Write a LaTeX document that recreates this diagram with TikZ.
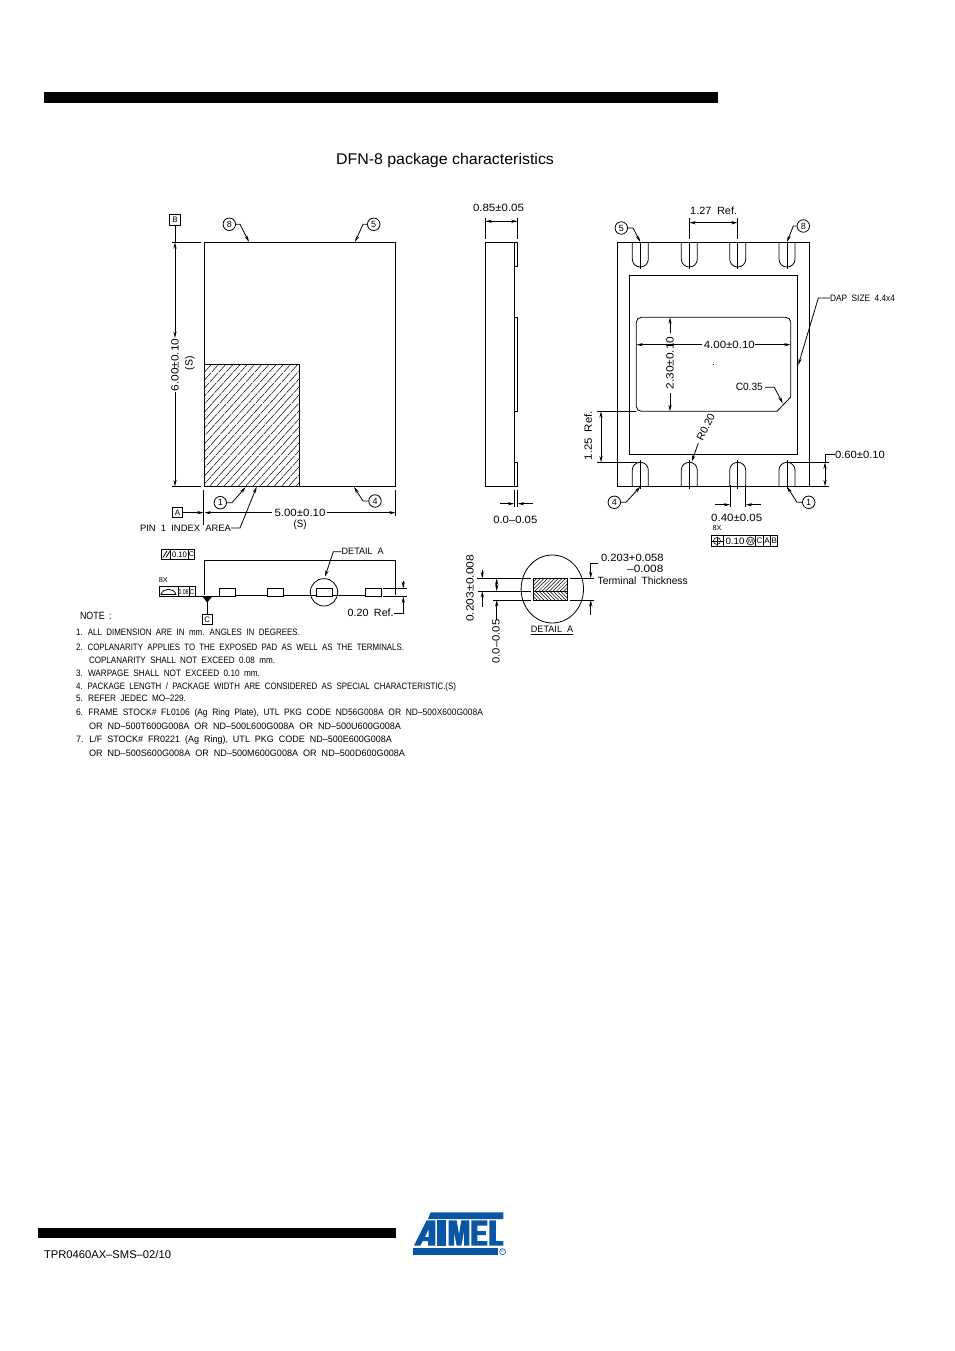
\documentclass[tikz,border=0pt]{standalone}
\usepackage{fontspec}
\usepackage{graphicx}
\setmainfont{Liberation Sans}
\usetikzlibrary{arrows.meta}
\newcommand{\cad}[2]{\resizebox{#1pt}{\height}{\fontsize{10.5}{12}\selectfont\spaceskip=.5em #2}}
\newcommand{\cadn}[2]{\resizebox{#1pt}{\height}{\fontsize{9.3}{11}\selectfont\spaceskip=.55em #2}}
\definecolor{atmel}{HTML}{0A56A6}
\tikzset{
  ln/.style={line width=0.8pt,black},
  tip/.style={-{Stealth[length=6.5pt,width=3.2pt]},line width=0.8pt},
  dbl/.style={{Stealth[length=6.5pt,width=3.2pt]}-{Stealth[length=6.5pt,width=3.2pt]},line width=0.8pt},
  lab/.style={inner sep=0pt,outer sep=0pt,anchor=center},
  noteline/.style={inner sep=0pt,outer sep=0pt,anchor=west},
  balloon/.style={draw,circle,line width=0.8pt,minimum size=12.5pt,inner sep=0pt},
  datum/.style={draw,line width=0.8pt,minimum width=10.5pt,minimum height=10.5pt,inner sep=0pt},
  hatchln/.style={line width=0.5pt,black}
}
\newcommand{\bal}[4]{\node[balloon] (#1) at (#2,#3) {\fontsize{9}{10}\selectfont #4};}
\begin{document}
\begin{tikzpicture}[x=1pt,y=-1pt]
\useasboundingbox (0,0) rectangle (954,1351);
\fill[white] (0,0) rectangle (954,1351);
% page furniture
\fill[black] (44,92) rectangle (718,103);
\fill[black] (38,1228) rectangle (396,1238);
\node[lab] (title) at (445,160.5) {\resizebox{218pt}{\height}{\fontsize{15.5}{18}\selectfont DFN-8 package characteristics}};
\node[noteline] (code) at (44,1254) {\resizebox{127pt}{\height}{\fontsize{11.2}{13}\selectfont TPR0460AX–SMS–02/10}};

% ---------- top view
\draw[ln] (204.3,242.3) rectangle (395.7,486.3);
\begin{scope}
\clip (204.3,364.3) rectangle (299.7,486.3);
\foreach \k in {0,...,30} {\draw[hatchln,dash pattern=on 13pt off 1pt] ({204.3-110+\k*7.2},486.3) -- ++(110,-122);}
\end{scope}
\draw[ln] (204.3,364.3) rectangle (299.7,486.3);
\node[datum] (B) at (175,220) {\fontsize{8}{9}\selectfont B};
\node[datum] (A) at (177.5,512.5) {\fontsize{8}{9}\selectfont A};
\draw[ln] (171.5,242.3) -- (201,242.3);
\draw[ln] (171.5,486.3) -- (201,486.3);
\draw[ln] (B.south) -- (175,242.3);
\draw[dbl] (175,338) -- (175,242.3);
\draw[tip] (175,392) -- (175,486.3);
\node[lab,rotate=90] (d600) at (175,365) {\cad{53}{6.00±0.10}};
\node[lab,rotate=90] (s1) at (190,363) {\cad{14}{(S)}};
\draw[tip] (A.east) -- (203.7,512.7);
\draw[ln] (203.7,490) -- (203.7,525);
\draw[ln] (395.7,490) -- (395.7,516);
\draw[tip] (271.7,512.7) -- (204.3,512.7);
\draw[tip] (326.7,512.7) -- (395.7,512.7);
\node[lab] (d500) at (300,512.7) {\cad{51}{5.00±0.10}};
\node[lab] (s2) at (300,525) {\cad{13}{(S)}};
\node[noteline] (pin) at (140,528) {\cadn{91}{PIN 1 INDEX AREA}};
\coordinate (pinend) at (256.7,486.7);
\draw[tip] (pin.east) -- (240,528) -- (pinend);
\bal{a1}{220.3}{502.7}{1}
\bal{a4}{375}{501}{4}
\bal{a8}{229.3}{224.3}{8}
\bal{a5}{373.7}{224.3}{5}
\draw[tip] (a1.east) -- (232,502.7) -- (245.7,487);
\draw[tip] (a4.west) -- (363,501) -- (354,487);
\draw[tip] (a8.east) -- (240,224.3) -- (249,242);
\draw[tip] (a5.west) -- (363,224.3) -- (355,242);

% ---------- side view
\draw[ln] (485.3,242.3) rectangle (514.3,486.3);
\draw[ln] (514.3,242.3) rectangle (517.7,266.3);
\draw[ln] (514.3,317.3) rectangle (517.7,411.3);
\draw[ln] (514.3,462.3) rectangle (517.7,486.3);
\draw[ln] (485.3,218) -- (485.3,239);
\draw[ln] (517.7,218) -- (517.7,239);
\draw[dbl] (485.3,221.3) -- (517.7,221.3);
\node[lab] (d085) at (498.5,208.3) {\cad{51}{0.85±0.05}};
\draw[ln] (514.3,489.7) -- (514.3,506.7);
\draw[ln] (517.7,489.7) -- (517.7,506.7);
\draw[tip] (500,503.7) -- (514.3,503.7);
\draw[tip] (532.7,503.7) -- (517.7,503.7);
\node[lab] (d00) at (515.3,520) {\cad{44}{0.0–0.05}};

% ---------- bottom view
\draw[ln] (617.3,242.3) rectangle (809.7,486.3);
\draw[ln] (629.3,275.3) rectangle (797.7,454.3);
\foreach \x in {640.3,689.3,737.7,787} {
  \draw[ln,rounded corners=7.8pt] (\x-8,242.3) -- (\x-8,267) -- (\x+8,267) -- (\x+8,242.3);
  \draw[ln,rounded corners=7.8pt] (\x-8,486.3) -- (\x-8,462.3) -- (\x+8,462.3) -- (\x+8,486.3);
}
\draw[ln] (640.3,242.3) -- (640.3,269);
\draw[ln] (787,242.3) -- (787,269);
\draw[ln] (689.3,218) -- (689.3,239);
\draw[ln] (689.3,242.3) -- (689.3,269);
\draw[ln] (737.7,218) -- (737.7,239);
\draw[ln] (737.7,242.3) -- (737.7,269);
\foreach \x in {640.3,689.3,737.7,787} {\draw[ln] (\x,460) -- (\x,489);}
\draw[dbl] (689.3,222.7) -- (737.7,222.7);
\node[lab] (d127) at (713.7,210.7) {\cad{47}{1.27 Ref.}};
\draw[ln,rounded corners=5pt] (777,411.3) -- (636.3,411.3) -- (636.3,317.3) -- (790.7,317.3) -- (790.7,397);
\draw[ln] (790.7,397) -- (777,411.3);
\bal{b5}{621.3}{228}{5}
\bal{b8}{803.3}{226}{8}
\bal{b4}{614.3}{502.3}{4}
\bal{b1}{808.7}{502.3}{1}
\draw[tip] (b5.east) -- (633,228) -- (640.3,242);
\draw[tip] (b8.west) -- (793.3,226) -- (787,242);
\draw[tip] (b4.east) -- (626,502.3) -- (640.3,486.7);
\draw[tip] (b1.west) -- (797,502.3) -- (787,486.7);
\node[noteline] (dap) at (830,298) {\cadn{65}{DAP SIZE 4.4x4}};
\draw[tip] (dap.west) -- (818.3,298) -- (798.3,365);
\draw[tip] (701.7,344.7) -- (636.3,344.7);
\draw[tip] (755,344.7) -- (790.7,344.7);
\node[lab] (d400) at (729.3,344.7) {\cad{51}{4.00±0.10}};
\draw[tip] (670,333) -- (670,317.3);
\draw[tip] (670,393) -- (670,411.3);
\node[lab,rotate=90] (d230) at (670,363) {\cad{53}{2.30±0.10}};
\fill[black] (713.3,363.6) rectangle (714.3,364.6);
\node[lab] (c035) at (749.3,387.3) {\cad{27}{C0.35}};
\draw[tip] (c035.east) ++(2,0) -- (774.3,387.3) -- (782.7,403.3);
\draw[ln] (597.3,411.3) -- (636.3,411.3);
\draw[ln] (597.3,462.3) -- (636.7,462.3);
\draw[dbl] (601,411.3) -- (601,462.3);
\node[lab,rotate=90] (d125) at (588,435.7) {\cad{49}{1.25 Ref.}};
\node[lab,rotate=64] (r020) at (705.7,427.3) {\cad{29}{R0.20}};
\draw[tip] (698.3,443) -- (691.7,461.7);
\node[noteline] (d060) at (835,454.7) {\cad{50}{0.60±0.10}};
\draw[ln] (789,462.3) -- (829,462.3);
\draw[ln] (809.7,486.3) -- (829,486.3);
\draw[ln] (d060.west) -- (825,454.7) -- (825,462.3);
\draw[dbl] (825,462.3) -- (825,486.3);
\draw[ln] (730.3,485) -- (730.3,506.7);
\draw[ln] (745.7,485) -- (745.7,506.7);
\draw[tip] (715,504.7) -- (730.3,504.7);
\draw[tip] (760.7,504.7) -- (745.7,504.7);
\node[lab] (d040) at (736.7,517.7) {\cad{51}{0.40±0.05}};
\node[lab] (x8c) at (717,528.3) {\resizebox{9pt}{\height}{\fontsize{7}{8}\selectfont 8X}};
% position frame
\draw[ln] (711,535.7) rectangle (777.7,546.3);
\foreach \x in {723.3,755.7,763.3,770.7} {\draw[ln] (\x,535.7) -- (\x,546.3);}
\node[draw,circle,line width=0.6pt,minimum size=7pt,inner sep=0pt] (pos) at (717,541) {};
\draw[ln] (711.5,541) -- (722.5,541) (717,536.5) -- (717,545.5);
\node[lab] (t010) at (735,541) {\cadn{19}{0.10}};
\node[draw,circle,line width=0.6pt,minimum size=8pt,inner sep=0pt] (mm) at (750.5,541) {\fontsize{6}{7}\selectfont M};
\node[lab] (fc) at (759.5,541) {\fontsize{8}{9}\selectfont C};
\node[lab] (fa) at (767,541) {\fontsize{8}{9}\selectfont A};
\node[lab] (fb) at (774.2,541) {\fontsize{8}{9}\selectfont B};

% ---------- edge view
\draw[ln] (204,595) -- (204,560) -- (395.7,560) -- (395.7,595);
\draw[ln] (161,549.3) rectangle (194.3,559.3);
\foreach \x in {170.7,188.3} {\draw[ln] (\x,549.3) -- (\x,559.3);}
\draw[ln] (163,557.5) -- (167,551) (166,557.5) -- (170,551);
\node[lab] (t1) at (179.5,554.3) {\resizebox{15pt}{\height}{\fontsize{8}{9}\selectfont 0.10}};
\node[lab] (t1c) at (191.3,554.3) {\fontsize{7}{8}\selectfont C};
\node[lab] (x8a) at (163.3,580) {\resizebox{9pt}{\height}{\fontsize{7}{8}\selectfont 8X}};
\draw[ln] (159.3,586.7) rectangle (195,596.7);
\foreach \x in {178,189} {\draw[ln] (\x,586.7) -- (\x,596.7);}
\draw[ln] (161,594.5) .. controls (163,587.5) and (174,587.5) .. (176,594.5) -- cycle;
\node[lab] (t2) at (183.5,591.7) {\resizebox{10pt}{\height}{\fontsize{7}{8}\selectfont 0.08}};
\node[lab] (t2c) at (192,591.7) {\fontsize{7}{8}\selectfont C};
\draw[ln] (195,596) -- (219.3,596);
\draw[ln] (235,595) -- (267.7,595) (283.7,595) -- (316,595) (332,595) -- (365.3,595);
\draw[ln] (219.3,588.3) rectangle (235,596.7);
\draw[ln] (267.7,588.3) rectangle (283.7,596.7);
\draw[ln] (316,588.3) rectangle (332,596.7);
\draw[ln] (365.3,588.3) rectangle (381,596.7);
\draw[ln] (383.3,588.3) -- (407.3,588.3) (383.3,596.3) -- (407.3,596.3);
\draw[ln] (324,592.3) circle[radius=13.7];
\node[noteline] (det) at (341.7,551.7) {\cadn{42}{DETAIL A}};
\draw[tip] (det.west) -- (333.3,551.7) -- (325,576.7);
\node[datum] (C) at (207.3,619.5) {\fontsize{8}{9}\selectfont C};
\fill[black] (202.5,596.7) -- (212,596.7) -- (207.3,602.5) -- cycle;
\draw[ln] (207.3,601) -- (C.north);
\draw[tip] (403.3,581) -- (403.3,588.3);
\node[lab] (d020) at (370.7,613) {\cad{46}{0.20 Ref.}};
\draw[tip] (d020.east) -- (403.3,613) -- (403.3,596.5);

% ---------- detail A
\draw[ln] (552.3,589) ellipse[x radius=31.2,y radius=34];
\begin{scope}
\clip (533.3,578.3) rectangle (567.7,591);
\foreach \k in {0,...,14} {\draw[hatchln] ({533.3-12.7+\k*3.6},591) -- ++(12.7,-12.7);}
\end{scope}
\begin{scope}
\clip (533.3,591) rectangle (567.7,600);
\foreach \k in {0,...,13} {\draw[hatchln] ({533.3-9+\k*3.6},591) -- ++(9,9);}
\end{scope}
\draw[ln] (533.3,578.3) rectangle (567.7,600);
\draw[ln] (533.3,591) -- (567.7,591);
\draw[ln] (476.7,578.3) -- (531,578.3) (570,578.3) -- (594.3,578.3);
\draw[ln] (478.3,591) -- (531,591);
\draw[ln] (493.3,600) -- (531,600) (570,600) -- (594.3,600);
\draw[tip] (482.3,570) -- (482.3,578.3);
\draw[tip] (482.3,606.7) -- (482.3,591);
\node[lab,rotate=90] (d203) at (470,588.3) {\cad{67}{0.203±0.008}};
\draw[dbl] (496.7,578.3) -- (496.7,591);
\draw[tip] (496.7,620) -- (496.7,600);
\node[lab,rotate=90] (d005) at (496,641.7) {\cad{44}{0.0–0.05}};
\draw[tip] (598.3,563.3) -- (590.7,563.3) -- (590.7,578.3);
\draw[tip] (590.7,615) -- (590.7,600);
\node[lab,anchor=west] (t1a) at (601,558.3) {\cad{62.5}{0.203+0.058}};
\node[lab,anchor=east] (t1b) at (663.3,569) {\cad{36}{–0.008}};
\node[lab,anchor=west] (t1d) at (597.7,580.7) {\cad{90}{Terminal Thickness}};
\node[lab] (deta) at (552,629) {\cadn{42.3}{DETAIL A}};
\draw[ln] (531,634.3) -- (573.3,634.3);

% ---------- notes
\node[noteline] (n0) at (80,616) {\cad{31.7}{NOTE :}};
\node[noteline] (n1) at (76,632) {\cadn{224}{1. ALL DIMENSION ARE IN mm. ANGLES IN DEGREES.}};
\node[noteline] (n2) at (76,647) {\cadn{328}{2. COPLANARITY APPLIES TO THE EXPOSED PAD AS WELL AS THE TERMINALS.}};
\node[noteline] (n2b) at (89,660) {\cadn{186}{COPLANARITY SHALL NOT EXCEED 0.08 mm.}};
\node[noteline] (n3) at (76,673.7) {\cadn{184}{3. WARPAGE SHALL NOT EXCEED 0.10 mm.}};
\node[noteline] (n4) at (76,686.7) {\cadn{380}{4. PACKAGE LENGTH / PACKAGE WIDTH ARE CONSIDERED AS SPECIAL CHARACTERISTIC.(S)}};
\node[noteline] (n5) at (76,698.7) {\cadn{110}{5. REFER JEDEC MO–229.}};
\node[noteline] (n6) at (76,713) {\cadn{407}{6. FRAME STOCK\# FL0106 (Ag Ring Plate), UTL PKG CODE ND56G008A OR ND–500X600G008A}};
\node[noteline] (n6b) at (89,726) {\cadn{312}{OR ND–500T600G008A OR ND–500L600G008A OR ND–500U600G008A}};
\node[noteline] (n7) at (76,740) {\cadn{316}{7. L/F STOCK\# FR0221 (Ag Ring), UTL PKG CODE ND–500E600G008A}};
\node[noteline] (n7b) at (89,753) {\cadn{316}{OR ND–500S600G008A OR ND–500M600G008A OR ND–500D600G008A}};

% ---------- logo
\begin{scope}[shift={(400,1205)},x=0.3333pt,y=-0.3333pt]
\fill[atmel] (92,22) -- (310,22) -- (310,42) -- (84,42) -- cycle;
\fill[atmel,even odd rule] (42,122) -- (80,46) -- (106,46) -- (106,122) -- (84,122) -- (84,108) -- (68,108) -- (61,122) -- cycle (86,72) -- (86,96) -- (75,96) -- cycle;
\fill[atmel] (112,46) -- (138,46) -- (138,122) -- (112,122) -- cycle;
\fill[atmel] (146,46) -- (170,46) -- (177,88) -- (184,46) -- (208,46) -- (208,122) -- (192,122) -- (192,80) -- (184,122) -- (170,122) -- (162,80) -- (162,122) -- (146,122) -- cycle;
\fill[atmel] (214,46) -- (262,46) -- (262,62) -- (232,62) -- (232,78) -- (258,78) -- (258,90) -- (232,90) -- (232,108) -- (262,108) -- (262,122) -- (214,122) -- cycle;
\fill[atmel] (268,46) -- (288,46) -- (288,108) -- (310,108) -- (310,122) -- (268,122) -- cycle;
\fill[atmel] (40,128) -- (295,128) -- (295,150) -- (40,150) -- cycle;
\draw[atmel,line width=0.6pt] (308,140) circle[radius=9];
\node[lab,text=atmel] (reg) at (308,140) {\fontsize{3.5}{4}\selectfont R};
\end{scope}
\end{tikzpicture}
\end{document}
